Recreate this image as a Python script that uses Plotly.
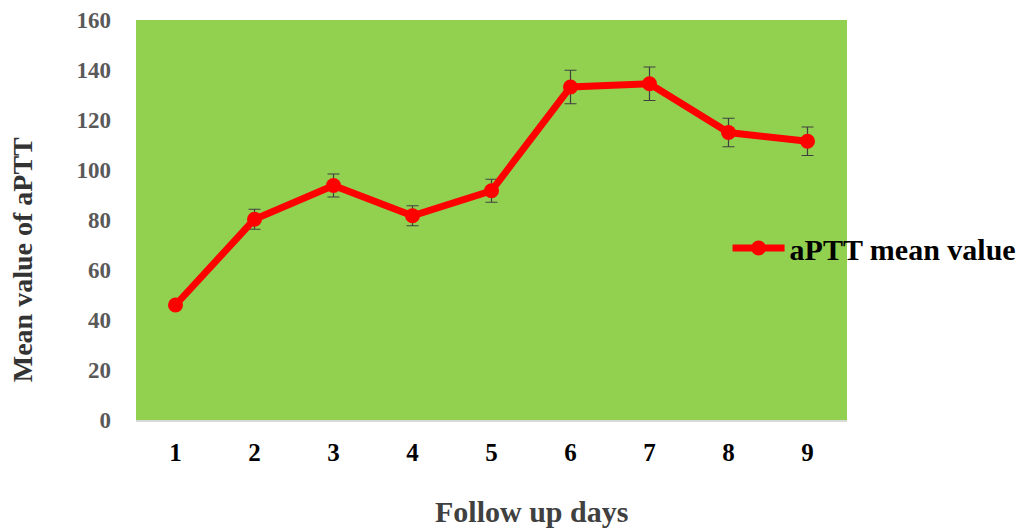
import plotly.graph_objects as go

days = ["1", "2", "3", "4", "5", "6", "7", "8", "9"]
mean_aptt = [46, 80.3, 93.8, 81.7, 91.7, 133.2, 134.5, 115, 111.5]
err = [0, 4, 4.6, 4, 4.6, 6.7, 6.7, 5.7, 5.7]
y_ticks = [0, 20, 40, 60, 80, 100, 120, 140, 160]
x_title = "Follow up days"
y_title = "Mean value of aPTT"

fig = go.Figure()
fig.add_trace(go.Scatter(
    x=days, y=mean_aptt, mode="lines+markers", name="aPTT mean value",
    line=dict(color="#ff0000", width=7),
    marker=dict(color="#ff0000", size=15),
    error_y=dict(type="data", array=err, visible=True, color="#404040",
                 thickness=1.2, width=6),
))

fig.update_layout(
    width=1024, height=529,
    margin=dict(l=128, r=185, t=12, b=117, autoexpand=False),
    paper_bgcolor="white", plot_bgcolor="#92d050",
    font=dict(family="Liberation Serif", color="black"),
    showlegend=True,
    legend=dict(x=0.832, y=0.43, xanchor="left", yanchor="middle",
                bgcolor="rgba(0,0,0,0)", itemwidth=52,
                font=dict(size=30, family="Liberation Serif", color="black", weight="bold")),
    xaxis=dict(
        type="category", range=[-0.5, 8.5], automargin=False,
        showgrid=False, zeroline=False,
        showline=True, linecolor="#d9d9d9", linewidth=2,
        ticks="", ticklabelstandoff=9,
        tickfont=dict(size=25, family="Liberation Serif", color="black", weight="bold"),
    ),
    yaxis=dict(
        range=[0, 160], tickvals=y_ticks, showgrid=False, zeroline=False,
        automargin=False,
        showline=False, ticks="", ticklabelstandoff=24,
        tickfont=dict(size=23, family="Liberation Serif", color="#595959", weight="bold"),
    ),
    annotations=[
        dict(text=x_title, xref="paper", yref="paper", x=0.556, y=-0.228,
             xanchor="center", yanchor="middle", showarrow=False,
             font=dict(size=30, family="Liberation Serif", color="#404040", weight="bold")),
        dict(text=y_title, xref="paper", yref="paper", x=-0.160, y=0.40,
             xanchor="center", yanchor="middle", showarrow=False, textangle=-90,
             font=dict(size=28, family="Liberation Serif", color="#333333", weight="bold")),
    ],
)

fig.write_html("out.html")
